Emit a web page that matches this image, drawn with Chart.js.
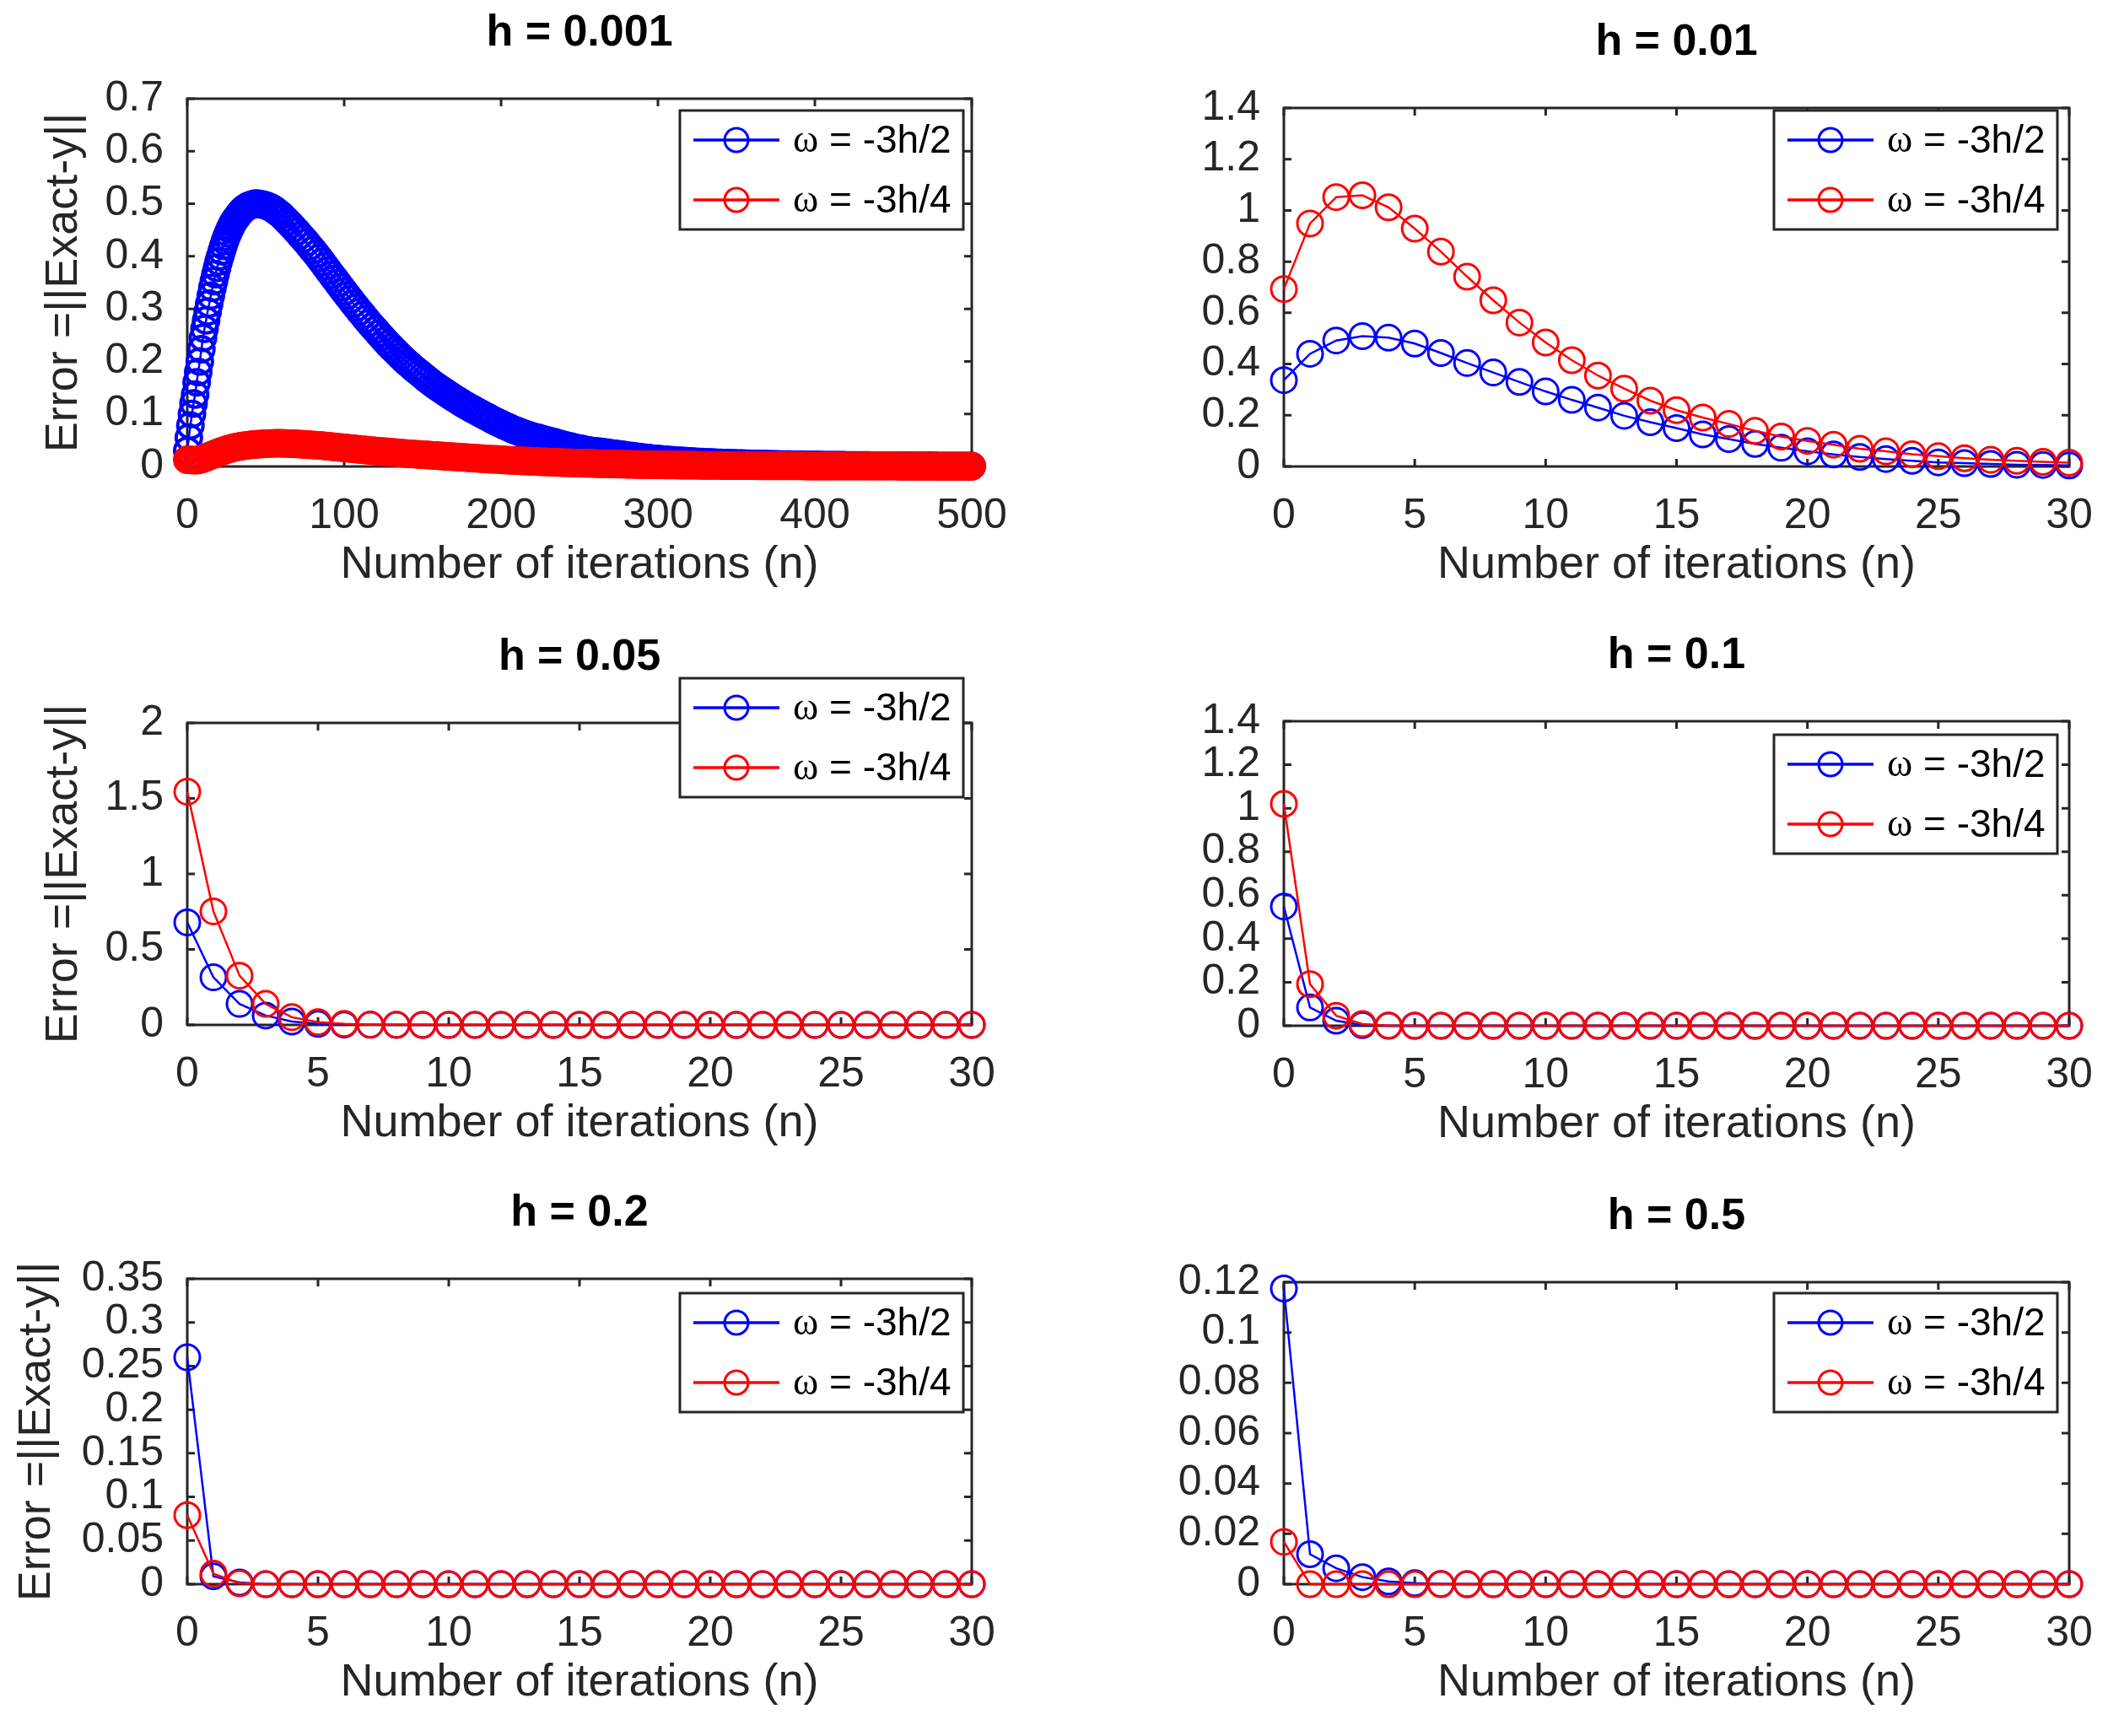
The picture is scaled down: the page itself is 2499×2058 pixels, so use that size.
<!DOCTYPE html>
<html>
<head>
<meta charset="utf-8">
<script src="https://cdn.jsdelivr.net/npm/chart.js@4.4.0/dist/chart.umd.min.js"></script>
<style>
  html, body { margin: 0; padding: 0; background: #fff; overflow: hidden; }
  #page { position: relative; width: 2499px; height: 2058px; overflow: hidden; background: #fff; }
  #page canvas { position: absolute; }
</style>
</head>
<body>
<div id="page"></div>
<script>
// ---- data ----
const stepTitles = ['h = 0.001', 'h = 0.01', 'h = 0.05', 'h = 0.1', 'h = 0.2', 'h = 0.5'];
const seriesNames = ['ω = -3h/2', 'ω = -3h/4'];
const xLabel = 'Number of iterations (n)';
const yLabel = 'Error =||Exact-y||';

// [max, step] of each panel's axes
const xRanges = [[500, 100], [30, 5], [30, 5], [30, 5], [30, 5], [30, 5]];
const yRanges = [[0.7, 0.1], [1.4, 0.2], [2, 0.5], [1.4, 0.2], [0.35, 0.05], [0.12, 0.02]];

const iters30 = [0,1,2,3,4,5,6,7,8,9,10,11,12,13,14,15,16,17,18,19,20,21,22,23,24,25,26,27,28,29,30];

// h = 0.001 : [n, error]
const h0001Blue = [
  [0,.03],[1,.055],[2,.078],[3,.1],[4,.12],[5,.137],[6,.16],[7,.18],[8,.2],[9,.223],[10,.245],[11,.262],[12,.278],[13,.295],[14,.31],[15,.325],
  [16,.34],[17,.353],[18,.366],[19,.378],[20,.39],[21,.4],[22,.41],[23,.42],[24,.429],[25,.437],[26,.444],[27,.451],[28,.457],[29,.463],[30,.468],
  [31,.472],[32,.476],[33,.48],[34,.484],[35,.487],[36,.49],[37,.492],[38,.494],[39,.496],[40,.497],[41,.498],[42,.499],[43,.5],[44,.5],[45,.5],
  [46,.4995],[48,.4985],[50,.497],[52,.4945],[54,.4915],[56,.4875],[58,.483],[60,.478],[62,.472],[64,.466],[66,.46],[68,.4535],[70,.447],[72,.44],
  [74,.4335],[76,.4265],[78,.419],[80,.412],[82,.4045],[84,.397],[86,.389],[88,.381],[90,.373],[92,.365],[94,.357],[96,.349],[98,.341],[100,.333],
  [102,.3255],[104,.318],[106,.31],[108,.3025],[110,.295],[112,.288],[114,.2805],[116,.2735],[118,.2665],[120,.26],[122,.253],[124,.2465],[126,.2395],
  [128,.233],[130,.227],[132,.221],[134,.215],[136,.209],[138,.2035],[140,.198],[142,.193],[144,.1875],[146,.1825],[148,.178],[150,.173],[152,.168],
  [154,.1635],[156,.1585],[158,.154],[160,.15],[162,.146],[164,.142],[166,.138],[168,.134],[170,.13],[172,.1265],[174,.123],[176,.119],[178,.1155],
  [180,.112],[182,.109],[184,.1055],[186,.1025],[188,.099],[190,.096],[192,.093],[194,.0895],[196,.0865],[198,.0835],[200,.081],[202,.078],[204,.0755],
  [206,.0725],[208,.07],[210,.068],[212,.0655],[214,.063],[216,.061],[218,.059],[220,.057],[222,.0555],[224,.054],[226,.052],[228,.0505],[230,.049],
  [232,.0475],[234,.046],[236,.044],[238,.0425],[240,.041],[242,.0395],[244,.038],[246,.0365],[248,.035],[250,.034],[252,.033],[254,.0315],[256,.0305],
  [258,.0295],[260,.029],[262,.028],[264,.0275],[266,.0265],[268,.026],[270,.025],[272,.024],[274,.0235],[276,.0225],[278,.022],[280,.021],[282,.02],
  [284,.0195],[286,.0185],[288,.018],[290,.017],[292,.0165],[294,.016],[296,.015],[298,.0145],[300,.014],[302,.0135],[304,.013],[306,.0125],[308,.012],
  [310,.0115],[312,.011],[314,.0107],[316,.0103],[318,.0099],[320,.0095],[322,.0092],[324,.0089],[326,.0086],[328,.0083],[330,.008],[332,.0078],
  [334,.0075],[336,.0073],[338,.007],[340,.0068],[342,.0066],[344,.0064],[346,.0062],[348,.006],[350,.0058],[352,.0056],[354,.0055],[356,.0053],
  [358,.0052],[360,.005],[362,.0049],[364,.0047],[366,.0046],[368,.0044],[370,.0043],[372,.0042],[374,.0041],[376,.0039],[378,.0038],[380,.0037],
  [382,.0036],[384,.0035],[386,.0034],[388,.0033],[390,.0032],[392,.0031],[394,.003],[396,.0029],[398,.0029],[400,.0028],[402,.0027],[404,.0027],
  [406,.0026],[408,.0026],[410,.0025],[412,.0025],[414,.0024],[416,.0023],[418,.0023],[420,.0022],[422,.0022],[424,.0021],[426,.0021],[428,.002],
  [430,.002],[432,.0019],[434,.0019],[436,.0018],[438,.0018],[440,.0017],[442,.0017],[444,.0016],[446,.0016],[448,.0016],[450,.0015],[452,.0015],
  [454,.0014],[456,.0014],[458,.0014],[460,.0013],[462,.0013],[464,.0013],[466,.0012],[468,.0012],[470,.0012],[472,.0011],[474,.0011],[476,.0011],
  [478,.001],[480,.001],[482,.001],[484,.001],[486,.0009],[488,.0009],[490,.0009],[492,.0009],[494,.0008],[496,.0008],[498,.0008],[500,.0008]
];
const h0001Red = [
  [0,.013],[2,.0125],[4,.012],[6,.012],[8,.0133],[10,.015],[12,.0174],[14,.0198],[16,.0222],[18,.0246],[20,.027],[22,.029],[24,.031],[26,.0328],
  [28,.0344],[30,.036],[32,.0372],[34,.0384],[36,.0394],[38,.0402],[40,.041],[42,.0416],[44,.0422],[46,.0427],[48,.0431],[50,.0435],[52,.0437],
  [54,.0439],[56,.044],[58,.044],[60,.044],[62,.0438],[64,.0436],[66,.0434],[68,.0432],[70,.043],[72,.0426],[74,.0422],[76,.0418],[78,.0414],
  [80,.041],[82,.0406],[84,.0402],[86,.0397],[88,.0391],[90,.0385],[92,.0379],[94,.0373],[96,.0367],[98,.0361],[100,.0355],[102,.0349],[104,.0343],
  [106,.0337],[108,.0331],[110,.0325],[112,.0319],[114,.0313],[116,.0307],[118,.0301],[120,.0295],[122,.029],[124,.0285],[126,.028],[128,.0275],
  [130,.027],[132,.0265],[134,.026],[136,.0255],[138,.025],[140,.0245],[142,.0241],[144,.0237],[146,.0233],[148,.0229],[150,.0225],[152,.0221],
  [154,.0217],[156,.0213],[158,.0209],[160,.0205],[162,.0201],[164,.0197],[166,.0193],[168,.0189],[170,.0185],[172,.0181],[174,.0177],[176,.0173],
  [178,.0169],[180,.0165],[182,.0161],[184,.0157],[186,.0153],[188,.0149],[190,.0145],[192,.0142],[194,.0138],[196,.0135],[198,.0131],[200,.0128],
  [202,.0125],[204,.0122],[206,.0118],[208,.0115],[210,.0112],[212,.0109],[214,.0106],[216,.0104],[218,.0101],[220,.0098],[222,.0095],[224,.0093],
  [226,.009],[228,.0088],[230,.0085],[232,.0083],[234,.0081],[236,.0078],[238,.0076],[240,.0074],[242,.0072],[244,.007],[246,.0068],[248,.0066],
  [250,.0064],[252,.0062],[254,.0061],[256,.0059],[258,.0058],[260,.0056],[262,.0054],[264,.0053],[266,.0051],[268,.005],[270,.0048],[272,.0047],
  [274,.0046],[276,.0044],[278,.0043],[280,.0042],[282,.0041],[284,.004],[286,.0038],[288,.0037],[290,.0036],[292,.0035],[294,.0034],[296,.0034],
  [298,.0033],[300,.0032],[302,.0031],[304,.003],[306,.0029],[308,.0028],[310,.0028],[312,.0027],[314,.0026],[316,.0025],[318,.0025],[320,.0024],
  [322,.0023],[324,.0023],[326,.0022],[328,.0022],[330,.0021],[332,.0021],[334,.002],[336,.002],[338,.0019],[340,.0019],[342,.0018],[344,.0018],
  [346,.0017],[348,.0017],[350,.0017],[352,.0016],[354,.0016],[356,.0016],[358,.0015],[360,.0015],[362,.0015],[364,.0014],[366,.0014],[368,.0014],
  [370,.0013],[372,.0013],[374,.0013],[376,.0012],[378,.0012],[380,.0012],[382,.0012],[384,.0011],[386,.0011],[388,.0011],[390,.0011],[392,.0011],
  [394,.001],[396,.001],[398,.001],[400,.001],[402,.001],[404,.001],[406,.0009],[408,.0009],[410,.0009],[412,.0009],[414,.0009],[416,.0009],
  [418,.0008],[420,.0008],[422,.0008],[424,.0008],[426,.0008],[428,.0008],[430,.0008],[432,.0008],[434,.0007],[436,.0007],[438,.0007],[440,.0007],
  [442,.0007],[444,.0007],[446,.0007],[448,.0007],[450,.0007],[452,.0007],[454,.0006],[456,.0006],[458,.0006],[460,.0006],[462,.0006],[464,.0006],
  [466,.0006],[468,.0006],[470,.0006],[472,.0006],[474,.0006],[476,.0006],[478,.0005],[480,.0005],[482,.0005],[484,.0005],[486,.0005],[488,.0005],
  [490,.0005],[492,.0005],[494,.0005],[496,.0005],[498,.0005],[500,.0005]
];

// h = 0.01 ... 0.5 : one value per iteration n = 0..30
const h001Blue = [0.337,0.44,0.492,0.509,0.503,0.48,0.443,0.404,0.367,0.33,0.293,0.26,0.23,0.198,0.173,0.15,0.125,0.107,0.088,0.073,0.059,0.047,0.037,0.029,0.022,0.016,0.013,0.01,0.007,0.006,0.004];
const h001Red  = [0.693,0.949,1.052,1.059,1.012,0.929,0.839,0.741,0.649,0.562,0.484,0.415,0.355,0.304,0.257,0.22,0.191,0.166,0.139,0.117,0.1,0.085,0.069,0.059,0.048,0.04,0.032,0.026,0.022,0.018,0.015];
const h005Blue = [0.679,0.315,0.139,0.062,0.022,0.007,0.002,0.001,0,0,0,0,0,0,0,0,0,0,0,0,0,0,0,0,0,0,0,0,0,0,0];
const h005Red  = [1.544,0.752,0.326,0.139,0.051,0.018,0.007,0.002,0.001,0,0,0,0,0,0,0,0,0,0,0,0,0,0,0,0,0,0,0,0,0,0];
const h01Blue  = [0.548,0.084,0.023,0.003,0,0,0,0,0,0,0,0,0,0,0,0,0,0,0,0,0,0,0,0,0,0,0,0,0,0,0];
const h01Red   = [1.02,0.191,0.046,0.008,0.001,0,0,0,0,0,0,0,0,0,0,0,0,0,0,0,0,0,0,0,0,0,0,0,0,0,0];
const h02Blue  = [0.26,0.009,0.002,0,0,0,0,0,0,0,0,0,0,0,0,0,0,0,0,0,0,0,0,0,0,0,0,0,0,0,0];
const h02Red   = [0.079,0.012,0.001,0,0,0,0,0,0,0,0,0,0,0,0,0,0,0,0,0,0,0,0,0,0,0,0,0,0,0,0];
const h05Blue  = [0.1175,0.0119,0.0063,0.0028,0.0011,0.0004,0.0001,0,0,0,0,0,0,0,0,0,0,0,0,0,0,0,0,0,0,0,0,0,0,0,0];
const h05Red   = [0.0168,0,0,0,0,0,0,0,0,0,0,0,0,0,0,0,0,0,0,0,0,0,0,0,0,0,0,0,0,0,0];

// ---- styling / layout ----
const BLUE = '#0000ff';
const RED = '#ff0000';
const AXIS = '#262626';
const FONT = '"Liberation Sans", Arial, Helvetica, sans-serif';
const SIDE = 222;      // room left (and right) of every plot box
const XAXIS_H = 150;   // tick labels + x title below the box
const TITLE_GAP = 78;  // title centre to top of box

const toPoints = vals => vals.map((v, i) => ({ x: iters30[i], y: v }));
const pairPoints = pairs => pairs.map(p => ({ x: p[0], y: p[1] }));

// plot box in page pixels, legend offsets from the box
const panels = [
  { blue: pairPoints(h0001Blue), red: pairPoints(h0001Red), box: [222, 117, 1152, 553], legend: { top: 14, right: 10 }, yTitlePad: 44, ring: 4 },
  { blue: toPoints(h001Blue), red: toPoints(h001Red), box: [1522, 128, 2453, 553], legend: { top: 3, right: 14 } },
  { blue: toPoints(h005Blue), red: toPoints(h005Red), box: [222, 857, 1152, 1215], legend: { top: -53, right: 10 }, yTitlePad: 44 },
  { blue: toPoints(h01Blue), red: toPoints(h01Red), box: [1522, 855, 2453, 1216], legend: { top: 16, right: 14 } },
  { blue: toPoints(h02Blue), red: toPoints(h02Red), box: [222, 1516, 1152, 1878], legend: { top: 17, right: 10 }, yTitlePad: 12 },
  { blue: toPoints(h05Blue), red: toPoints(h05Red), box: [1522, 1520, 2453, 1878], legend: { top: 13, right: 14 } }
];

// axes box with inward ticks on all four sides, drawn under the data
const boxAxes = {
  id: 'boxAxes',
  beforeDatasetsDraw(chart) {
    const { ctx, chartArea: a, scales } = chart;
    const tick = 9;
    ctx.save();
    ctx.strokeStyle = AXIS;
    ctx.lineWidth = 3;
    ctx.beginPath();
    scales.x.ticks.forEach(t => {
      const px = scales.x.getPixelForValue(t.value);
      ctx.moveTo(px, a.bottom); ctx.lineTo(px, a.bottom - tick);
      ctx.moveTo(px, a.top); ctx.lineTo(px, a.top + tick);
    });
    scales.y.ticks.forEach(t => {
      const py = scales.y.getPixelForValue(t.value);
      ctx.moveTo(a.left, py); ctx.lineTo(a.left + tick, py);
      ctx.moveTo(a.right, py); ctx.lineTo(a.right - tick, py);
    });
    ctx.stroke();
    ctx.strokeRect(a.left, a.top, a.right - a.left, a.bottom - a.top);
    ctx.restore();
  }
};

// MATLAB-like boxed legend in the upper right corner
const boxLegend = {
  id: 'boxLegend',
  afterDraw(chart, args, opts) {
    const { ctx, chartArea: a } = chart;
    const w = 336, h = 141;
    const x0 = a.right - opts.right - w;
    const y0 = a.top + opts.top;
    ctx.save();
    ctx.fillStyle = '#fff';
    ctx.fillRect(x0, y0, w, h);
    ctx.strokeStyle = AXIS;
    ctx.lineWidth = 3;
    ctx.strokeRect(x0, y0, w, h);
    chart.data.datasets.forEach((ds, i) => {
      const cy = y0 + 35 + i * 71;
      ctx.strokeStyle = ds.borderColor;
      ctx.lineWidth = 3.5;
      ctx.beginPath();
      ctx.moveTo(x0 + 16, cy); ctx.lineTo(x0 + 118, cy);
      ctx.stroke();
      ctx.lineWidth = 3;
      ctx.beginPath();
      ctx.arc(x0 + 67, cy, 14, 0, Math.PI * 2);
      ctx.stroke();
      // omega in a serif face, the rest in sans
      const label = ds.label;
      ctx.fillStyle = '#000';
      ctx.textBaseline = 'middle';
      ctx.font = '46px "Liberation Serif", "DejaVu Serif", serif';
      ctx.fillText(label.charAt(0), x0 + 134, cy + 2);
      const ow = ctx.measureText(label.charAt(0)).width;
      ctx.font = '46px ' + FONT;
      ctx.fillText(label.slice(1), x0 + 134 + ow, cy + 2);
    });
    ctx.restore();
  }
};

const fmt = v => String(Number(v.toFixed(3)));

const page = document.getElementById('page');
panels.forEach((p, k) => {
  const [L, T, R, B] = p.box;
  const cTop = Math.round(T - TITLE_GAP - 31.2);
  const cLeft = L - SIDE;
  const cW = (R - L) + 2 * SIDE;
  const cH = (B + XAXIS_H) - cTop;

  const canvas = document.createElement('canvas');
  canvas.width = cW;
  canvas.height = cH;
  canvas.style.left = cLeft + 'px';
  canvas.style.top = cTop + 'px';
  canvas.style.width = cW + 'px';
  canvas.style.height = cH + 'px';
  page.appendChild(canvas);

  const [xMax, xStep] = xRanges[k];
  const [yMax, yStep] = yRanges[k];
  const showYTitle = p.yTitlePad !== undefined;
  const ring = p.ring || 3;

  const series = (label, data, color, order) => ({
    label, data,
    borderColor: color,
    backgroundColor: 'rgba(0,0,0,0)',
    borderWidth: 2.5,
    pointRadius: 15,
    pointBorderWidth: ring,
    pointBorderColor: color,
    pointBackgroundColor: 'rgba(0,0,0,0)',
    pointStyle: 'circle',
    tension: 0,
    clip: false,
    order
  });

  new Chart(canvas, {
    type: 'line',
    data: {
      datasets: [
        series(seriesNames[0], p.blue, BLUE, 2),
        series(seriesNames[1], p.red, RED, 1)
      ]
    },
    options: {
      responsive: false,
      animation: false,
      events: [],
      layout: { padding: 0, autoPadding: false },
      scales: {
        x: {
          type: 'linear', position: 'bottom', min: 0, max: xMax,
          grid: { display: false, drawTicks: false },
          border: { display: false },
          ticks: { stepSize: xStep, padding: 29, color: AXIS, maxRotation: 0, autoSkip: false,
                   font: { family: FONT, size: 50 } },
          title: { display: true, text: xLabel, color: AXIS, padding: 0,
                   font: { family: FONT, size: 54 } },
          afterFit: s => { s.height = XAXIS_H; }
        },
        y: {
          type: 'linear', position: 'left', min: 0, max: yMax,
          grid: { display: false, drawTicks: false },
          border: { display: false },
          ticks: { stepSize: yStep, padding: 28, color: AXIS, callback: fmt, autoSkip: false,
                   font: { family: FONT, size: 50 } },
          title: { display: showYTitle, text: yLabel, color: AXIS,
                   padding: { top: showYTitle ? p.yTitlePad : 0, bottom: 0 },
                   font: { family: FONT, size: 54 } },
          afterFit: s => { s.width = SIDE; }
        },
        yRight: {
          type: 'linear', position: 'right', display: true,
          grid: { display: false, drawTicks: false },
          border: { display: false },
          ticks: { display: false },
          afterFit: s => { s.width = SIDE; }
        }
      },
      plugins: {
        legend: { display: false },
        tooltip: { enabled: false },
        title: {
          display: true, text: stepTitles[k], color: '#000',
          font: { family: FONT, size: 52, weight: 'bold', lineHeight: 1.2 },
          padding: { top: 0, bottom: T - cTop - 62.4 }
        },
        boxLegend: p.legend
      }
    },
    plugins: [boxAxes, boxLegend]
  });
});
</script>
</body>
</html>
